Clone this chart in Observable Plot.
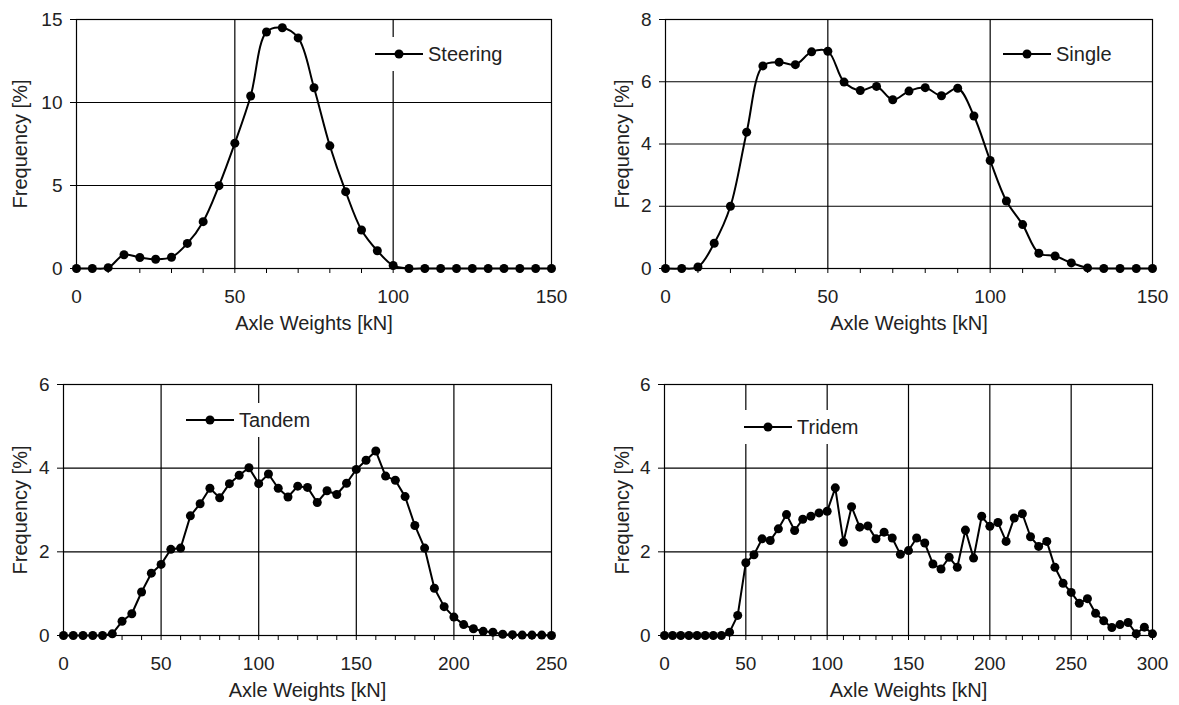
<!DOCTYPE html>
<html>
<head>
<meta charset="utf-8">
<script src="https://cdn.jsdelivr.net/npm/d3@7"></script>
<script src="https://cdn.jsdelivr.net/npm/@observablehq/plot@0.6"></script>
<style>
  body { margin: 0; background: #fff; }
  #wrap { position: relative; width: 1179px; height: 705px; background: #fff; overflow: hidden; font-family: "Liberation Sans", Arial, sans-serif; }
  .panel { position: absolute; }
  .legend { position: absolute; background: #fff; display: flex; align-items: center; height: 34px; padding: 0 6px; font-size: 20px; color: #222; font-family: "Liberation Sans", Arial, sans-serif; }
  .legend span { margin-left: 5px; }
</style>
</head>
<body>
<div id="wrap"></div>
<script>
// ---- Data ----
const xTitle = "Axle Weights [kN]";
const yTitle = "Frequency [%]";

const steeringWeights = [0,5,10,15,20,25,30,35,40,45,50,55,60,65,70,75,80,85,90,95,100,105,110,115,120,125,130,135,140,145,150];
const steeringFreq = [0,0,0.05,0.83,0.66,0.56,0.68,1.51,2.82,4.99,7.55,10.39,14.25,14.5,13.89,10.89,7.39,4.63,2.32,1.07,0.18,0,0,0,0,0,0,0,0,0,0];

const singleWeights = [0,5,10,15,20,25,30,35,40,45,50,55,60,65,70,75,80,85,90,95,100,105,110,115,120,125,130,135,140,145,150];
const singleFreq = [0,0,0.05,0.81,2.0,4.38,6.51,6.63,6.55,6.96,6.98,5.99,5.72,5.85,5.42,5.70,5.81,5.55,5.79,4.90,3.47,2.17,1.41,0.49,0.40,0.18,0.02,0,0,0,0];

const tandemWeights = [0,5,10,15,20,25,30,35,40,45,50,55,60,65,70,75,80,85,90,95,100,105,110,115,120,125,130,135,140,145,150,155,160,165,170,175,180,185,190,195,200,205,210,215,220,225,230,235,240,245,250];
const tandemFreq = [0,0,0,0,0,0.04,0.34,0.52,1.04,1.49,1.70,2.06,2.09,2.86,3.15,3.52,3.29,3.63,3.83,4.01,3.63,3.86,3.52,3.31,3.57,3.54,3.18,3.46,3.37,3.64,3.97,4.19,4.41,3.81,3.71,3.32,2.63,2.09,1.13,0.69,0.44,0.26,0.16,0.10,0.08,0.03,0.02,0.01,0.01,0.01,0];

const tridemWeights = [0,5,10,15,20,25,30,35,40,45,50,55,60,65,70,75,80,85,90,95,100,105,110,115,120,125,130,135,140,145,150,155,160,165,170,175,180,185,190,195,200,205,210,215,220,225,230,235,240,245,250,255,260,265,270,275,280,285,290,295,300];
const tridemFreq = [0,0,0,0,0,0,0,0,0.08,0.48,1.74,1.93,2.31,2.27,2.55,2.89,2.51,2.78,2.85,2.93,2.97,3.53,2.23,3.08,2.59,2.62,2.31,2.47,2.33,1.94,2.03,2.33,2.21,1.71,1.59,1.87,1.63,2.52,1.85,2.85,2.61,2.70,2.25,2.81,2.91,2.36,2.13,2.25,1.63,1.25,1.03,0.77,0.88,0.53,0.35,0.19,0.26,0.31,0.04,0.20,0.04];

const steeringXTicks = [0,10,20,30,40,50,60,70,80,90,100,110,120,130,140,150];
const tandemXTicks = [0,10,20,30,40,50,60,70,80,90,100,110,120,130,140,150,160,170,180,190,200,210,220,230,240,250];
const tridemXTicks = [0,10,20,30,40,50,60,70,80,90,100,110,120,130,140,150,160,170,180,190,200,210,220,230,240,250,260,270,280,290,300];

const panels = [
  {name: "Steering", w: steeringWeights, f: steeringFreq, xMax: 150, yMax: 15, xTicks: steeringXTicks, xGrid: [50,100], yTicks: [0,5,10,15], yGrid: [5,10], curve: "catmull-rom",
   left: 0, top: 0, width: 590, height: 345, ml: 76, mr: 39, mt: 19, mb: 77, titleDx: -56, titleDy: 55, legend: {x: 369, cy: 54}},
  {name: "Single", w: singleWeights, f: singleFreq, xMax: 150, yMax: 8, xTicks: steeringXTicks, xGrid: [50,100], yTicks: [0,2,4,6,8], yGrid: [2,4,6], curve: "catmull-rom",
   left: 590, top: 0, width: 589, height: 345, ml: 75, mr: 27, mt: 19, mb: 77, titleDx: -43, titleDy: 55, legend: {x: 997, cy: 54}},
  {name: "Tandem", w: tandemWeights, f: tandemFreq, xMax: 250, yMax: 6, xTicks: tandemXTicks, xGrid: [50,100,150,200], yTicks: [0,2,4,6], yGrid: [2,4], curve: "linear",
   left: 0, top: 365, width: 590, height: 340, ml: 63, mr: 39, mt: 19, mb: 70, titleDx: -43, titleDy: 55, legend: {x: 180, cy: 420}},
  {name: "Tridem", w: tridemWeights, f: tridemFreq, xMax: 300, yMax: 6, xTicks: tridemXTicks, xGrid: [50,100,150,200,250], yTicks: [0,2,4,6], yGrid: [2,4], curve: "linear",
   left: 590, top: 365, width: 589, height: 340, ml: 74, mr: 27, mt: 19, mb: 70, titleDx: -42, titleDy: 55, legend: {x: 738, cy: 427}}
];

const wrap = document.getElementById("wrap");

for (const p of panels) {
  const data = p.w.map((w, i) => ({w, f: p.f[i]}));
  const chart = Plot.plot({
    width: p.width,
    height: p.height,
    marginLeft: p.ml,
    marginRight: p.mr,
    marginTop: p.mt,
    marginBottom: p.mb,
    x: {domain: [0, p.xMax]},
    y: {domain: [0, p.yMax]},
    style: {fontFamily: "'Liberation Sans', Arial, sans-serif", fontSize: "19px", color: "#222", background: "transparent", overflow: "visible"},
    marks: [
      Plot.gridX(p.xGrid, {stroke: "#000", strokeOpacity: 1, strokeWidth: 1.2}),
      Plot.gridY(p.yGrid, {stroke: "#000", strokeOpacity: 1, strokeWidth: 1.2}),
      Plot.frame({stroke: "#000", strokeWidth: 1.2}),
      Plot.axisX({ticks: p.xTicks, tickSize: 5, tickPadding: 16, stroke: "#000", tickFormat: d => d % 50 === 0 ? String(d) : "", label: null}),
      Plot.axisY({ticks: p.yTicks, tickSize: 6, tickPadding: 8, stroke: "#000", tickFormat: d => String(d), label: null}),
      Plot.line(data, {x: "w", y: "f", stroke: "#000", strokeWidth: 2, curve: p.curve}),
      Plot.dot(data, {x: "w", y: "f", r: 4.5, fill: "#000", stroke: "none"}),
      Plot.text([xTitle], {frameAnchor: "bottom", dy: p.titleDy, fontSize: 20, fill: "#222", textAnchor: "middle", lineAnchor: "middle"}),
      Plot.text([yTitle], {frameAnchor: "left", rotate: -90, dx: p.titleDx, fontSize: 20, fill: "#222", textAnchor: "middle", lineAnchor: "middle"})
    ]
  });
  const holder = document.createElement("div");
  holder.className = "panel";
  holder.style.left = p.left + "px";
  holder.style.top = p.top + "px";
  holder.appendChild(chart);
  wrap.appendChild(holder);

  // legend box
  const lg = document.createElement("div");
  lg.className = "legend";
  lg.style.left = p.legend.x + "px";
  lg.style.top = (p.legend.cy - 17) + "px";
  lg.innerHTML = `<svg width="48" height="34"><line x1="0" y1="17" x2="48" y2="17" stroke="#000" stroke-width="2"/><circle cx="24" cy="17" r="4.5" fill="#000"/></svg><span>${p.name}</span>`;
  wrap.appendChild(lg);
}
</script>
</body>
</html>
